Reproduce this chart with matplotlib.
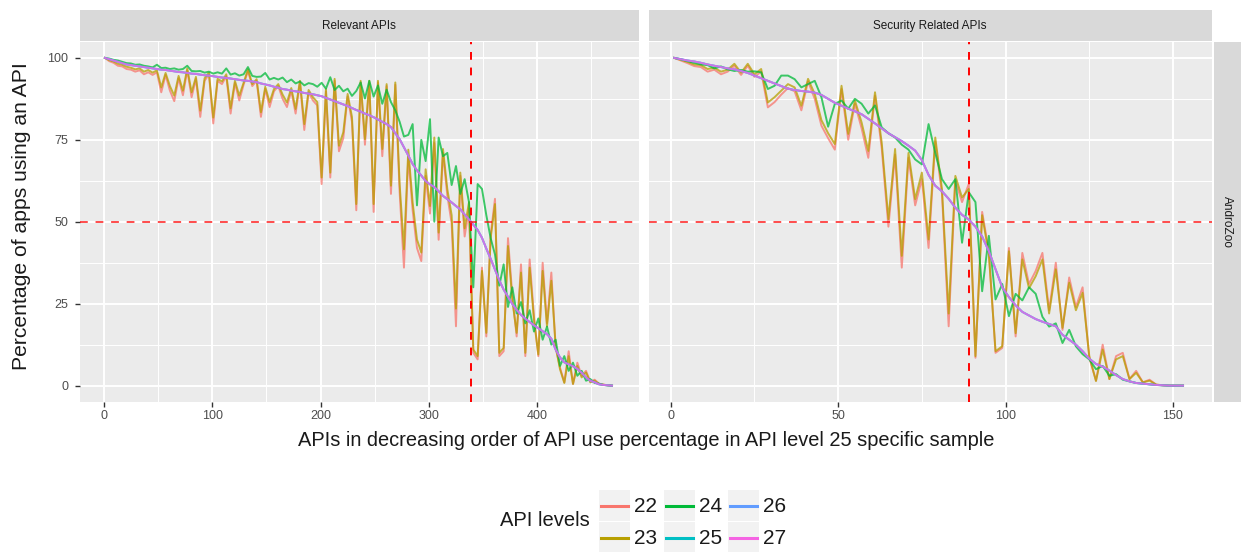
"""API usage share per API level, sorted by the level-25 sample (two facets).

    python3 plot.py   -> out.png

Left facet: all relevant APIs, right facet: security related APIs.
Levels 25, 26 and 27 coincide in the source, so they are drawn from one list.
"""
import matplotlib
matplotlib.use("Agg")
import matplotlib.pyplot as plt
from matplotlib.lines import Line2D
from matplotlib.patches import Rectangle

LEVELS = ["22", "23", "24", "25", "26", "27"]
COLORS = ["#F8766D", "#B79F00", "#00BA38", "#00BFC4", "#619CFF", "#F564E3"]
FACETS = ["Relevant APIs", "Security Related APIs"]
ROW_STRIP = "AndroZoo"
X_TITLE = "APIs in decreasing order of API use percentage in API level 25 specific sample"
Y_TITLE = "Percentage of apps using an API"
LEGEND_TITLE = "API levels"

# --- Relevant APIs (470 APIs, read every 4th) ---
rel_x = list(range(1, 470, 4))
rel_n = 470
rel_cross = 339          # where level 25 crosses 50 %
rel_22 = [
    100.0, 99.0, 98.5, 97.6, 97.4, 96.6, 96.4, 95.8, 96.2, 95.0,
    95.6, 94.8, 95.6, 89.5, 94.8, 90.0, 86.8, 93.8, 88.6, 96.2,
    88.0, 93.6, 82.0, 93.0, 95.0, 80.0, 93.0, 92.0, 94.4, 83.0,
    92.4, 87.0, 91.8, 96.0, 91.4, 93.0, 82.0, 90.6, 85.0, 89.8,
    91.4, 87.5, 85.0, 90.0, 83.0, 92.4, 78.0, 89.5, 87.0, 85.5,
    61.5, 89.8, 63.5, 93.0, 71.5, 75.5, 88.2, 80.5, 53.5, 92.4,
    73.5, 92.4, 53.0, 92.4, 70.0, 91.4, 58.5, 91.8, 59.0, 36.0,
    70.0, 53.5, 42.0, 38.0, 64.0, 52.5, 74.0, 44.5, 71.0, 58.0,
    49.5, 18.1, 64.0, 45.5, 54.0, 10.0, 8.0, 36.0, 15.0, 46.0,
    57.0, 9.0, 10.5, 45.0, 27.5, 15.0, 37.0, 9.0, 38.5, 21.0,
    9.0, 37.5, 19.0, 34.5, 11.5, 5.5, 1.0, 10.5, 0.5, 7.0,
    3.0, 4.5, 1.2, 1.8, 0.6, 0.3, 0.1, 0.0,
]
rel_23 = [
    100.0, 99.3, 98.9, 98.2, 97.9, 97.3, 97.0, 96.5, 96.8, 95.8,
    96.3, 95.5, 96.2, 91.0, 95.4, 91.4, 88.5, 94.5, 90.0, 96.8,
    89.5, 94.2, 83.9, 93.8, 95.5, 81.8, 93.6, 92.8, 95.0, 84.6,
    93.0, 88.5, 92.4, 96.5, 92.0, 93.5, 83.4, 91.2, 86.5, 90.5,
    92.0, 88.8, 86.4, 90.8, 84.4, 93.0, 79.8, 90.2, 88.0, 86.5,
    63.5, 90.5, 65.0, 93.6, 73.2, 77.3, 89.0, 82.0, 55.4, 93.0,
    75.2, 93.0, 55.4, 93.0, 72.2, 92.0, 61.0, 92.5, 61.5, 41.6,
    72.0, 55.9, 44.6, 40.6, 66.0, 54.8, 75.7, 46.7, 72.2, 60.0,
    52.0, 23.5, 65.0, 48.0, 56.0, 11.0, 9.0, 35.0, 16.1, 45.0,
    55.4, 10.0, 11.5, 42.6, 26.0, 16.1, 34.5, 10.0, 36.0, 20.0,
    9.5, 35.0, 18.0, 32.0, 12.0, 5.0, 0.8, 9.0, 0.5, 6.0,
    2.5, 4.0, 1.0, 1.5, 0.5, 0.3, 0.1, 0.0,
]
rel_24 = [
    100.0, 99.8, 99.4, 99.2, 98.8, 98.4, 98.3, 97.9, 98.0, 97.6,
    97.4, 97.1, 97.9, 96.9, 97.0, 96.6, 96.8, 96.4, 96.6, 97.6,
    96.0, 95.9, 96.0, 95.5, 95.8, 95.2, 95.6, 95.2, 96.8, 94.9,
    95.3, 94.6, 95.0, 97.2, 94.5, 94.2, 94.3, 95.4, 93.4, 93.9,
    93.4, 94.0, 92.6, 93.4, 92.2, 92.8, 91.6, 92.3, 92.0, 91.2,
    92.4, 90.6, 94.1, 90.2, 91.5, 89.8, 90.6, 88.4, 89.9, 92.5,
    87.6, 93.0, 88.2, 91.6, 86.0, 90.3, 86.5, 84.0, 80.5, 76.0,
    76.5, 79.8, 55.0, 75.0, 68.5, 81.3, 50.0, 75.7, 70.0, 71.0,
    61.2, 67.0, 58.5, 63.0, 56.0, 30.0, 61.5, 60.0, 52.0, 45.0,
    40.0, 30.5, 37.0, 24.0, 30.0, 22.0, 25.5, 19.0, 23.0, 16.5,
    20.5, 14.0, 18.0, 12.5, 14.0, 6.0, 9.0, 4.5, 7.0, 3.0,
    4.5, 1.5, 2.0, 0.8, 0.6, 0.2, 0.1, 0.0,
]
rel_25_27 = [
    100.0, 99.6, 99.2, 98.8, 98.4, 98.0, 97.8, 97.6, 97.4, 97.2,
    97.0, 96.8, 96.6, 96.4, 96.3, 96.1, 95.9, 95.7, 95.6, 95.4,
    95.2, 95.1, 94.9, 94.7, 94.6, 94.4, 94.2, 94.0, 93.9, 93.7,
    93.5, 93.3, 93.1, 93.0, 92.8, 92.6, 92.2, 91.9, 91.6, 91.2,
    90.9, 90.5, 90.3, 90.0, 89.8, 89.6, 89.3, 89.1, 88.9, 88.6,
    88.3, 87.8, 87.3, 86.8, 86.3, 85.8, 85.3, 84.7, 84.1, 83.6,
    83.0, 82.5, 81.9, 81.2, 80.5, 79.8, 78.9, 77.0, 75.2, 72.7,
    70.2, 67.6, 65.7, 64.1, 62.4, 61.4, 60.6, 59.3, 57.9, 56.9,
    55.9, 54.8, 53.8, 52.2, 50.7, 49.1, 47.5, 45.1, 41.8, 38.7,
    35.4, 32.1, 29.3, 27.1, 24.9, 23.1, 21.6, 20.4, 19.4, 18.4,
    17.5, 16.6, 15.7, 14.3, 11.0, 8.6, 7.1, 6.5, 5.9, 5.1,
    3.9, 2.5, 1.5, 1.0, 0.4, 0.2, 0.1, 0.0,
]

# --- Security related APIs (154 APIs, read every 2nd) ---
sec_x = list(range(1, 154, 2))
sec_n = 154
sec_cross = 89
sec_22 = [
    100.0, 99.2, 98.4, 97.5, 97.2, 95.8, 96.4, 95.0, 95.8, 97.6,
    94.8, 97.6, 94.2, 95.8, 84.9, 86.5, 88.8, 90.8, 89.8, 84.0,
    92.8, 87.5, 79.3, 75.5, 72.0, 90.5, 75.0, 86.0, 78.5, 69.5,
    88.5, 72.5, 48.5, 70.5, 36.0, 69.5, 55.0, 63.0, 42.0, 74.5,
    58.5, 18.1, 62.5, 56.0, 61.5, 8.5, 53.0, 41.0, 10.0, 11.5,
    42.0, 15.0, 40.5, 31.0, 35.0, 40.5, 23.0, 37.5, 17.0, 33.0,
    24.0, 30.0, 8.5, 1.5, 12.5, 2.0, 9.0, 10.0, 2.0, 4.5,
    1.0, 1.8, 0.3, 0.1, 0.0, 0.0, 0.0,
]
sec_23 = [
    100.0, 99.4, 98.8, 98.0, 97.8, 96.6, 97.0, 95.8, 96.4, 98.2,
    95.5, 98.2, 95.0, 96.6, 86.4, 88.0, 90.0, 92.0, 91.0, 85.4,
    93.6, 89.0, 81.0, 77.0, 73.7, 91.5, 76.8, 87.0, 80.3, 71.6,
    89.5, 74.2, 50.8, 72.2, 39.6, 71.0, 56.9, 65.0, 44.6, 75.7,
    60.0, 22.0, 64.0, 57.4, 60.0, 9.0, 52.0, 40.0, 10.5, 12.0,
    41.0, 16.0, 38.5, 29.7, 33.4, 38.5, 22.0, 35.5, 17.6, 31.4,
    23.0, 28.3, 9.0, 1.4, 11.0, 2.0, 8.0, 9.0, 2.0, 3.9,
    1.0, 1.5, 0.3, 0.1, 0.0, 0.0, 0.0,
]
sec_24 = [
    100.0, 99.6, 99.0, 98.5, 98.0, 97.8, 96.8, 97.4, 96.5, 96.0,
    96.3, 95.8, 95.9, 95.6, 90.5, 91.5, 94.6, 94.6, 93.5, 91.0,
    92.0, 93.0, 88.0, 79.0, 86.0, 87.0, 84.5, 87.5, 86.0, 83.0,
    85.5, 78.8, 77.0, 75.7, 73.5, 72.0, 69.0, 67.5, 79.8, 71.0,
    63.0, 60.0, 63.0, 43.6, 59.0, 56.0, 28.8, 45.7, 26.3, 31.0,
    21.2, 28.0, 26.0, 30.0, 28.0, 21.0, 18.0, 19.0, 13.0, 17.0,
    12.0, 9.6, 8.0, 5.0, 6.0, 3.0, 3.5, 1.8, 1.3, 0.8,
    0.6, 0.4, 0.2, 0.1, 0.0, 0.0, 0.0,
]
sec_25_27 = [
    100.0, 99.6, 99.2, 98.9, 98.5, 98.0, 97.6, 97.2, 96.8, 96.5,
    96.0, 95.4, 94.6, 93.8, 93.0, 92.2, 91.4, 90.6, 90.2, 89.9,
    89.7, 89.4, 88.7, 87.5, 86.3, 85.4, 84.5, 83.7, 82.8, 81.4,
    80.0, 78.5, 77.0, 75.8, 74.6, 73.2, 71.7, 68.8, 64.3, 61.0,
    59.3, 57.0, 54.3, 52.1, 50.7, 48.5, 45.5, 41.0, 35.5, 30.0,
    27.0, 24.5, 22.5, 21.4, 20.3, 19.5, 18.8, 18.1, 15.5, 14.0,
    12.5, 10.5, 8.2, 6.6, 5.8, 4.6, 3.2, 2.0, 1.3, 0.8,
    0.6, 0.4, 0.2, 0.1, 0.0, 0.0, 0.0,
]

# ggplot2 grey theme
PANEL, STRIP, INK, TICK_INK = "#EBEBEB", "#D9D9D9", "#1A1A1A", "#4D4D4D"
W, H = 1241, 552
FONT = ["Liberation Sans", "DejaVu Sans"]


def _box(x0, y0, x1, y1):
    # pixel box (top-left origin) -> figure fraction rect
    return [x0 / W, 1 - y1 / H, (x1 - x0) / W, (y1 - y0) / H]


def _strip(fig, rect, label, rotation=0):
    ax = fig.add_axes(rect)
    ax.set_facecolor(STRIP)
    ax.set_xticks([])
    ax.set_yticks([])
    for s in ax.spines.values():
        s.set_visible(False)
    ax.text(0.5, 0.5, label, ha="center", va="center", rotation=rotation,
            fontsize=8.5, color=INK, transform=ax.transAxes)


def _panel(ax, x, series, n, cross, major, minor, show_y):
    ax.set_facecolor(PANEL)
    for lvl, color in zip(LEVELS, COLORS):
        ax.plot(x, series[lvl], color=color, lw=1.4, alpha=0.75,
                solid_joinstyle="round", zorder=3)
    ax.axhline(50, color="red", lw=1.4, ls=(0, (4, 4)), alpha=0.7, zorder=4)
    ax.axvline(cross, color="red", lw=1.4, ls=(0, (4, 4)), zorder=4)

    pad = 0.05 * (n - 1)
    ax.set_xlim(1 - pad, n + pad)
    ax.set_ylim(-5, 105)
    ax.set_xticks(major)
    ax.set_xticks(minor, minor=True)
    ax.set_yticks([0, 25, 50, 75, 100])
    ax.set_yticks([12.5, 37.5, 62.5, 87.5], minor=True)
    ax.grid(True, which="major", color="white", lw=1.4)
    ax.grid(True, which="minor", color="white", lw=0.7)
    ax.set_axisbelow(True)
    for s in ax.spines.values():
        s.set_visible(False)
    ax.tick_params(which="minor", length=0)
    ax.tick_params(which="major", length=3.5, width=1, color="#333333",
                   labelcolor=TICK_INK, labelsize=9, pad=2)
    ax.tick_params(axis="y", which="major", pad=4.5)
    if not show_y:
        ax.tick_params(axis="y", which="major", length=0, labelleft=False)


def _legend(fig):
    lax = fig.add_axes([0, 0, 1, 1], zorder=-1)
    lax.set_xlim(0, W)
    lax.set_ylim(H, 0)
    lax.axis("off")
    lax.text(590, 521, LEGEND_TITLE, ha="right", va="center", fontsize=14.5, color=INK)
    cols, rows = [599, 664, 728], [490, 522]
    for i, (lvl, color) in enumerate(zip(LEVELS, COLORS)):
        x0, y0 = cols[i // 2], rows[i % 2]
        lax.add_patch(Rectangle((x0, y0), 31, 31, facecolor="#F2F2F2", edgecolor="none"))
        lax.add_line(Line2D([x0 + 2, x0 + 29], [y0 + 15.5] * 2, color=color, lw=2.2))
        lax.text(x0 + 35, y0 + 16, lvl, ha="left", va="center", fontsize=15, color=INK)


def main():
    plt.rcParams["font.family"] = FONT
    fig = plt.figure(figsize=(W / 100, H / 100), dpi=100)
    fig.patch.set_facecolor("white")

    rel = {"22": rel_22, "23": rel_23, "24": rel_24,
           "25": rel_25_27, "26": rel_25_27, "27": rel_25_27}
    sec = {"22": sec_22, "23": sec_23, "24": sec_24,
           "25": sec_25_27, "26": sec_25_27, "27": sec_25_27}

    ax_l = fig.add_axes(_box(79.5, 41.5, 638.5, 402))
    ax_r = fig.add_axes(_box(648.5, 41.5, 1212, 402))
    _panel(ax_l, rel_x, rel, rel_n, rel_cross,
           [0, 100, 200, 300, 400], [50, 150, 250, 350, 450], True)
    _panel(ax_r, sec_x, sec, sec_n, sec_cross,
           [0, 50, 100, 150], [25, 75, 125], False)

    _strip(fig, _box(79.5, 10, 638.5, 41.5), FACETS[0])
    _strip(fig, _box(648.5, 10, 1212, 41.5), FACETS[1])
    _strip(fig, _box(1213.5, 41.5, 1241, 402), ROW_STRIP, rotation=-90)

    fig.text(646 / W, 1 - 441 / H, X_TITLE, ha="center", va="center",
             fontsize=14.4, color=INK)
    fig.text(22 / W, 1 - 216 / H, Y_TITLE, ha="center", va="center",
             rotation=90, fontsize=15.2, color=INK)
    _legend(fig)

    fig.savefig("out.png", dpi=100, facecolor=fig.get_facecolor())


if __name__ == "__main__":
    main()
